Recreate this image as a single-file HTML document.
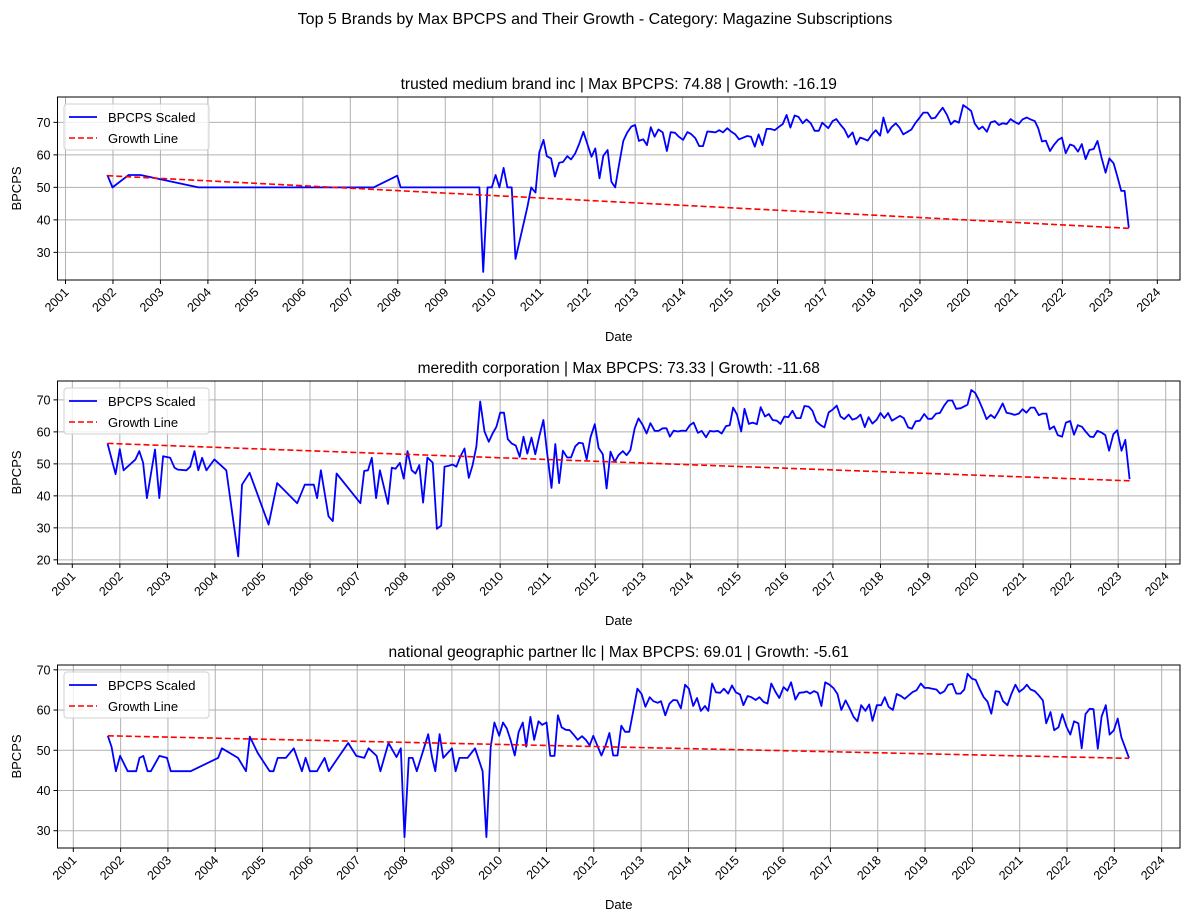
<!DOCTYPE html>
<html><head><meta charset="utf-8"><style>
body{margin:0;background:#fff;}
svg{display:block;font-family:"Liberation Sans","DejaVu Sans",sans-serif;}
</style></head><body>
<svg id="fig" width="1189" height="922" viewBox="0 0 1189 922">
<text x="595" y="24" text-anchor="middle" font-size="16" fill="#000">Top 5 Brands by Max BPCPS and Their Growth - Category: Magazine Subscriptions</text>
</svg>
<script>
const titles = ["trusted medium brand inc | Max BPCPS: 74.88 | Growth: -16.19","meredith corporation | Max BPCPS: 73.33 | Growth: -11.68","national geographic partner llc | Max BPCPS: 69.01 | Growth: -5.61"];
const yearTicks = [2001,2002,2003,2004,2005,2006,2007,2008,2009,2010,2011,2012,2013,2014,2015,2016,2017,2018,2019,2020,2021,2022,2023,2024];
const yTicks1 = [30,40,50,60,70];
const yTicks2 = [20,30,40,50,60,70];
const yTicks3 = [30,40,50,60,70];
const t1 = [2001.88,2001.99,2002.33,2002.58,2003.8,2007.49,2007.99,2008.06,2009.72,2009.8,2009.89,2009.98,2010.06,2010.14,2010.23,2010.31,2010.4,2010.48,2010.73,2010.81,2010.9,2010.98,2011.07,2011.14,2011.23,2011.31,2011.4,2011.48,2011.57,2011.65,2011.74,2011.82,2011.91,2011.99,2012.08,2012.16,2012.25,2012.33,2012.42,2012.5,2012.58,2012.66,2012.75,2012.83,2012.92,2013.0,2013.08,2013.17,2013.25,2013.33,2013.41,2013.49,2013.58,2013.67,2013.75,2013.84,2013.92,2014.01,2014.1,2014.18,2014.27,2014.35,2014.43,2014.52,2014.6,2014.69,2014.77,2014.85,2014.94,2015.02,2015.11,2015.19,2015.28,2015.36,2015.44,2015.52,2015.6,2015.68,2015.77,2015.85,2015.94,2016.02,2016.11,2016.19,2016.27,2016.36,2016.44,2016.53,2016.61,2016.7,2016.78,2016.87,2016.94,2017.07,2017.16,2017.24,2017.33,2017.41,2017.49,2017.58,2017.66,2017.74,2017.82,2017.9,2017.99,2018.07,2018.16,2018.23,2018.32,2018.4,2018.49,2018.57,2018.65,2018.74,2018.82,2018.9,2018.99,2019.07,2019.16,2019.24,2019.32,2019.4,2019.48,2019.57,2019.65,2019.73,2019.82,2019.91,2019.99,2020.08,2020.15,2020.24,2020.32,2020.41,2020.49,2020.58,2020.66,2020.74,2020.83,2020.91,2020.99,2021.08,2021.16,2021.25,2021.33,2021.42,2021.49,2021.57,2021.65,2021.74,2021.82,2021.91,2021.99,2022.07,2022.16,2022.24,2022.33,2022.41,2022.49,2022.57,2022.66,2022.74,2022.82,2022.91,2022.99,2023.08,2023.16,2023.24,2023.31,2023.4];
const v1 = [53.8,50,53.8,53.8,50,50,53.6,50,50,24,50,50,53.8,50,56,50,50,28,44,50,48.4,60.8,64.6,59.6,58.9,53.3,57.6,57.8,59.6,58.6,60.5,63.3,67.1,63.5,59.4,62,52.8,59.7,61.5,51.7,50,56.9,64.3,66.8,68.7,69.2,64.3,64.8,63,68.5,65.6,67.8,66.9,61.2,67,66.8,65.6,64.6,67,66.4,65.1,62.7,62.7,67.2,67.1,66.9,67.6,66.9,68.2,67.2,66.3,64.8,65.3,65.8,65.6,62.5,66.3,63,68,68,67.6,68.5,69.5,72.3,68.4,72.1,71.7,69.7,70.9,69.7,67.4,67.4,69.9,68.2,70.4,71,69.2,67.8,65.4,66.9,63.2,65.3,64.9,64.4,66.3,67.6,65.9,71.5,66.8,68.5,69.7,68.4,66.3,67.1,67.8,69.7,71.4,73,73,71.2,71.4,73,74.5,72.3,69.4,70.5,69.9,75.3,74.5,73.5,69.7,67.9,68.7,67.1,70,70.4,69.2,69.7,69.5,71,70.2,69.5,70.9,71.5,70.9,70.4,68.2,64.1,64.4,61.2,63,64.6,65.3,60.5,63.2,62.8,61,63.3,58.7,61.5,61.8,64.3,59.4,54.5,58.9,57.4,53.3,48.9,48.9,37.6];
const t2 = [2001.74,2001.91,2002.0,2002.08,2002.33,2002.41,2002.49,2002.57,2002.74,2002.83,2002.91,2003.06,2003.15,2003.22,2003.4,2003.48,2003.57,2003.65,2003.73,2003.82,2003.99,2004.24,2004.49,2004.57,2004.73,2005.13,2005.31,2005.73,2005.89,2006.08,2006.15,2006.23,2006.39,2006.48,2006.56,2007.06,2007.14,2007.22,2007.3,2007.39,2007.47,2007.64,2007.72,2007.8,2007.89,2007.97,2008.05,2008.14,2008.22,2008.3,2008.38,2008.47,2008.58,2008.67,2008.76,2008.83,2008.92,2009.0,2009.08,2009.16,2009.25,2009.34,2009.42,2009.5,2009.58,2009.67,2009.76,2009.84,2009.92,2010.0,2010.08,2010.16,2010.24,2010.33,2010.41,2010.49,2010.57,2010.66,2010.74,2010.83,2010.91,2010.99,2011.08,2011.16,2011.24,2011.32,2011.41,2011.49,2011.58,2011.66,2011.74,2011.82,2011.9,2011.99,2012.07,2012.16,2012.24,2012.32,2012.41,2012.49,2012.58,2012.66,2012.74,2012.83,2012.91,2013.0,2013.08,2013.16,2013.25,2013.33,2013.42,2013.5,2013.57,2013.65,2013.74,2013.82,2013.91,2013.99,2014.07,2014.16,2014.24,2014.33,2014.41,2014.49,2014.58,2014.66,2014.75,2014.83,2014.9,2014.98,2015.07,2015.14,2015.23,2015.31,2015.4,2015.48,2015.57,2015.65,2015.73,2015.82,2015.9,2015.98,2016.06,2016.15,2016.23,2016.32,2016.4,2016.49,2016.57,2016.65,2016.74,2016.82,2016.91,2016.99,2017.08,2017.16,2017.24,2017.33,2017.41,2017.5,2017.58,2017.67,2017.75,2017.83,2017.92,2018.0,2018.08,2018.16,2018.24,2018.33,2018.41,2018.49,2018.58,2018.66,2018.74,2018.83,2018.92,2019.0,2019.08,2019.17,2019.25,2019.34,2019.42,2019.51,2019.59,2019.69,2019.83,2019.91,2019.99,2020.06,2020.15,2020.23,2020.32,2020.4,2020.48,2020.57,2020.65,2020.74,2020.82,2020.91,2020.99,2021.07,2021.16,2021.24,2021.33,2021.41,2021.49,2021.56,2021.65,2021.73,2021.82,2021.9,2021.99,2022.07,2022.15,2022.24,2022.32,2022.41,2022.48,2022.56,2022.65,2022.73,2022.81,2022.9,2022.98,2023.07,2023.15,2023.24];
const v2 = [56.4,46.8,54.6,48,51.4,54,50.4,39.3,54.5,39.3,52.4,51.9,48.8,48.2,48,49.1,54,48,51.9,48,51.4,48,21.1,43.5,47.2,31,44,37.7,43.5,43.5,39.3,48,33.6,32.1,47,37.7,47.8,48,51.9,39.3,48,37.5,48.8,48.5,50.3,45.4,54,48,47,49.6,37.9,52,50.4,29.7,30.7,49.1,49.4,49.8,49.1,52.2,54.8,45.6,49.6,55.5,69.5,60.1,56.9,59.5,61.6,66,66,57.7,56.4,55.7,52.2,58.5,53.2,58.2,53,59,63.7,53.2,42.5,56.2,44,54.1,52,52,55.5,56.6,56.4,51.4,58.3,62.4,55,53,42.3,53.8,50.6,52.7,54,52.7,54.3,61.1,64.2,62.1,59.5,62.7,60.3,60.3,61.1,61.1,58.5,60.4,60.1,60.4,60.3,62.1,62.9,59.7,60.3,58.3,60.3,60.1,60.3,59.5,61.8,62.1,67.6,65.5,60.1,67.2,62.5,62.9,62.4,67.7,64.8,65.6,63.7,63.5,62.5,64.8,64.6,66.6,64.3,64.3,68.1,67.9,66.6,63.3,62.1,61.4,66.1,66.9,68.2,64.8,64,65.4,63.8,64.3,65.4,61.5,64.6,62.6,63.8,65.9,64.3,65.9,63.5,64.3,65,64.3,61.4,61,63.3,63.5,65.6,64.1,64.1,65.7,65.9,68.2,69.8,69.8,67.2,67.4,68.5,73.1,72.2,70.2,67.1,64,65.3,64.3,66.3,68.9,66,65.7,65.3,65.7,67.1,66,67.6,67.6,65.2,65.7,65.7,60.8,61.7,59,58.5,62.9,63.4,59.1,62.1,61.6,60,58.5,58.4,60.3,59.8,59,54.1,59.3,60.5,54.1,57.5,45.2];
const t3 = [2001.73,2001.81,2001.9,2001.99,2002.15,2002.33,2002.4,2002.48,2002.57,2002.64,2002.82,2002.98,2003.06,2003.48,2004.06,2004.14,2004.48,2004.65,2004.73,2004.9,2005.15,2005.23,2005.32,2005.49,2005.66,2005.83,2005.91,2006.0,2006.15,2006.31,2006.4,2006.81,2006.98,2007.15,2007.24,2007.41,2007.49,2007.66,2007.83,2007.92,2008.0,2008.09,2008.17,2008.26,2008.41,2008.5,2008.58,2008.65,2008.74,2008.82,2009.0,2009.08,2009.16,2009.33,2009.49,2009.65,2009.73,2009.82,2009.9,2010.0,2010.08,2010.16,2010.24,2010.33,2010.41,2010.5,2010.57,2010.66,2010.74,2010.83,2010.91,2011.0,2011.08,2011.17,2011.24,2011.32,2011.41,2011.49,2011.58,2011.66,2011.75,2011.83,2011.91,2011.99,2012.08,2012.16,2012.25,2012.33,2012.41,2012.5,2012.58,2012.66,2012.75,2012.84,2012.92,2013.01,2013.09,2013.18,2013.26,2013.35,2013.42,2013.51,2013.6,2013.68,2013.76,2013.84,2013.93,2014.01,2014.1,2014.18,2014.26,2014.35,2014.42,2014.5,2014.58,2014.67,2014.75,2014.84,2014.92,2015.0,2015.09,2015.16,2015.25,2015.33,2015.42,2015.5,2015.59,2015.67,2015.75,2015.84,2015.92,2016.01,2016.09,2016.17,2016.26,2016.34,2016.44,2016.5,2016.57,2016.65,2016.73,2016.81,2016.89,2016.98,2017.06,2017.15,2017.23,2017.32,2017.4,2017.49,2017.57,2017.65,2017.74,2017.82,2017.89,2017.98,2018.07,2018.15,2018.23,2018.32,2018.4,2018.49,2018.57,2018.65,2018.74,2018.82,2018.91,2018.99,2019.07,2019.15,2019.24,2019.32,2019.41,2019.49,2019.58,2019.66,2019.75,2019.83,2019.9,2019.99,2020.07,2020.15,2020.24,2020.32,2020.4,2020.49,2020.57,2020.65,2020.74,2020.82,2020.91,2020.99,2021.08,2021.15,2021.23,2021.32,2021.4,2021.49,2021.56,2021.65,2021.73,2021.82,2021.9,2021.99,2022.07,2022.15,2022.24,2022.31,2022.39,2022.48,2022.56,2022.65,2022.73,2022.82,2022.9,2022.99,2023.07,2023.15,2023.31];
const v3 = [53.6,50.8,44.8,48.6,44.8,44.8,48.1,48.6,44.8,44.8,48.6,48.1,44.8,44.8,48.1,50.5,48.1,44.8,53.4,49.3,44.8,44.8,48.1,48.1,50.5,44.8,48.1,44.8,44.8,48.1,44.8,51.8,48.6,48.1,50.5,48.6,44.8,51.8,48.3,50.5,28.4,48.1,48.1,44.8,50.5,54,48.3,44.8,54,48.1,50.5,44.8,48.1,48.1,50.5,44.8,28.4,50.8,56.9,53.6,56.9,55.4,52.6,48.7,54.5,56.9,50.9,58.3,52.6,57.2,56.3,56.9,48.6,48.6,58.7,55.7,55.1,55,53.8,52.6,53.5,52.6,51.2,53.6,51,48.7,51.2,54.3,48.7,48.7,56.1,54.6,54.6,60.2,65.3,64,60.8,63.2,62.2,61.8,62.2,58.7,61.6,62.5,62.4,60.4,66.3,65.3,61,63,59.8,61,59.8,66.6,64.4,64.3,65.3,64.1,66.1,64.4,63.9,61.2,63.5,63.2,62.5,63.2,62,61.6,66.6,64.5,63,65.7,64.8,66.9,62.6,64.3,64.4,64.6,64.1,64.7,64.3,61,66.9,66.3,65.5,64,60,62.4,60.6,58.3,57.2,61.2,59.8,61.4,57.3,61.2,61.2,63.2,60.8,60,64,63.5,62.8,63.6,64.5,64.9,66.6,65.5,65.5,65.3,65.1,64.1,64.7,66.3,66.5,64.1,64.1,65.1,69,67.8,67.5,65.3,63.2,62.1,59.1,64.7,64.5,62.2,61.2,63.9,66.3,64.5,65.3,66.3,65.1,64.7,63.7,62.4,56.7,59.5,55,55.7,59,55.8,53.9,57.2,56.7,50.5,59,60.3,60.2,50.4,58.4,61.2,53.9,55,57.9,53.2,48.1];
const growthStart = [53.6,56.4,53.6];
const growthEnd = [37.4,44.7,48.0];

const NS="http://www.w3.org/2000/svg";
const svg=document.getElementById('fig');
function mk(tag,attrs,parent){const e=document.createElementNS(NS,tag);for(const k in attrs)e.setAttribute(k,attrs[k]);(parent||svg).appendChild(e);return e;}

const panels=[
 {t:t1,v:v1,yt:yTicks1,left:57.5,right:1180,top:97,bottom:280,x0:65.5,xs:47.47,ymin:21.5,ymax:77.8},
 {t:t2,v:v2,yt:yTicks2,left:57.5,right:1180,top:381,bottom:564,x0:72.3,xs:47.54,ymin:18.7,ymax:75.9},
 {t:t3,v:v3,yt:yTicks3,left:57.5,right:1180,top:665,bottom:848,x0:73.3,xs:47.32,ymin:25.7,ymax:71.2}
];
panels.forEach((p,i)=>{
 const g=mk('g',{});
 
 
 const X=t=>p.x0+(t-2001)*p.xs;
 const Y=v=>p.bottom-(v-p.ymin)/(p.ymax-p.ymin)*(p.bottom-p.top);
 // grid
 yearTicks.forEach(yr=>{const x=X(yr);
   const l=mk('line',{x1:x,x2:x,y1:p.top,y2:p.bottom,stroke:'#b0b0b0','stroke-width':1},g);
   
   
   mk('line',{x1:x,x2:x,y1:p.bottom,y2:p.bottom+4,stroke:'#000','stroke-width':1},g);
   const tx=mk('text',{x:x+4,y:p.bottom+13,'text-anchor':'end','font-size':12.5,transform:`rotate(-45 ${x+4} ${p.bottom+13})`},g);
   tx.textContent=yr;
   
   
 });
 p.yt.forEach(v=>{const y=Y(v);
   const l=mk('line',{x1:p.left,x2:p.right,y1:y,y2:y,stroke:'#b0b0b0','stroke-width':1},g);
   
   
   mk('line',{x1:p.left-4,x2:p.left,y1:y,y2:y,stroke:'#000','stroke-width':1},g);
   const tx=mk('text',{x:p.left-7,y:y+4.5,'text-anchor':'end','font-size':12.5},g);
   tx.textContent=v;
   
   
 });
 // series
 const pts=p.t.map((t,k)=>X(t).toFixed(1)+','+Y(p.v[k]).toFixed(1)).join(' ');
 const line=mk('polyline',{points:pts,fill:'none',stroke:'#0000ff','stroke-width':1.8,'stroke-linejoin':'round'},g);
 
 
 const t0=p.t[0],tn=p.t[p.t.length-1];
 const gl=mk('line',{x1:X(t0),y1:Y(growthStart[i]),x2:X(tn),y2:Y(growthEnd[i]),stroke:'#ff0000','stroke-width':1.6,'stroke-dasharray':'6,3'},g);
 
 
 // frame
 mk('rect',{x:p.left,y:p.top,width:p.right-p.left,height:p.bottom-p.top,fill:'none',stroke:'#000','stroke-width':1},g);
 // title
 const tt=mk('text',{x:(p.left+p.right)/2,y:p.top-8,'text-anchor':'middle','font-size':15.5},g);
 tt.textContent=titles[i];
 
 
 const xl=mk('text',{x:(p.left+p.right)/2,y:p.bottom+61,'text-anchor':'middle','font-size':13},g);
 xl.textContent='Date';
 
 
 const ym=(p.top+p.bottom)/2;
 const yl=mk('text',{x:21,y:ym,'text-anchor':'middle','font-size':13,transform:`rotate(-90 21 ${ym})`},g);
 yl.textContent='BPCPS';
 
 
 // legend
 const lg=mk('g',{},g);
 
 
 const lx=p.left+6.5,ly=p.top+7;
 mk('rect',{x:lx,y:ly,width:145,height:46,rx:3,fill:'#fff','fill-opacity':0.8,stroke:'#d0d0d0'},lg);
 mk('line',{x1:lx+5,x2:lx+33,y1:ly+13,y2:ly+13,stroke:'#0000ff','stroke-width':1.8},lg);
 const a=mk('text',{x:lx+44,y:ly+18,'font-size':13},lg);a.textContent='BPCPS Scaled';
 
 
 mk('line',{x1:lx+5,x2:lx+33,y1:ly+34,y2:ly+34,stroke:'#ff0000','stroke-width':1.6,'stroke-dasharray':'6,3'},lg);
 const b=mk('text',{x:lx+44,y:ly+39,'font-size':13},lg);b.textContent='Growth Line';
 
 
});
</script>
</body></html>
